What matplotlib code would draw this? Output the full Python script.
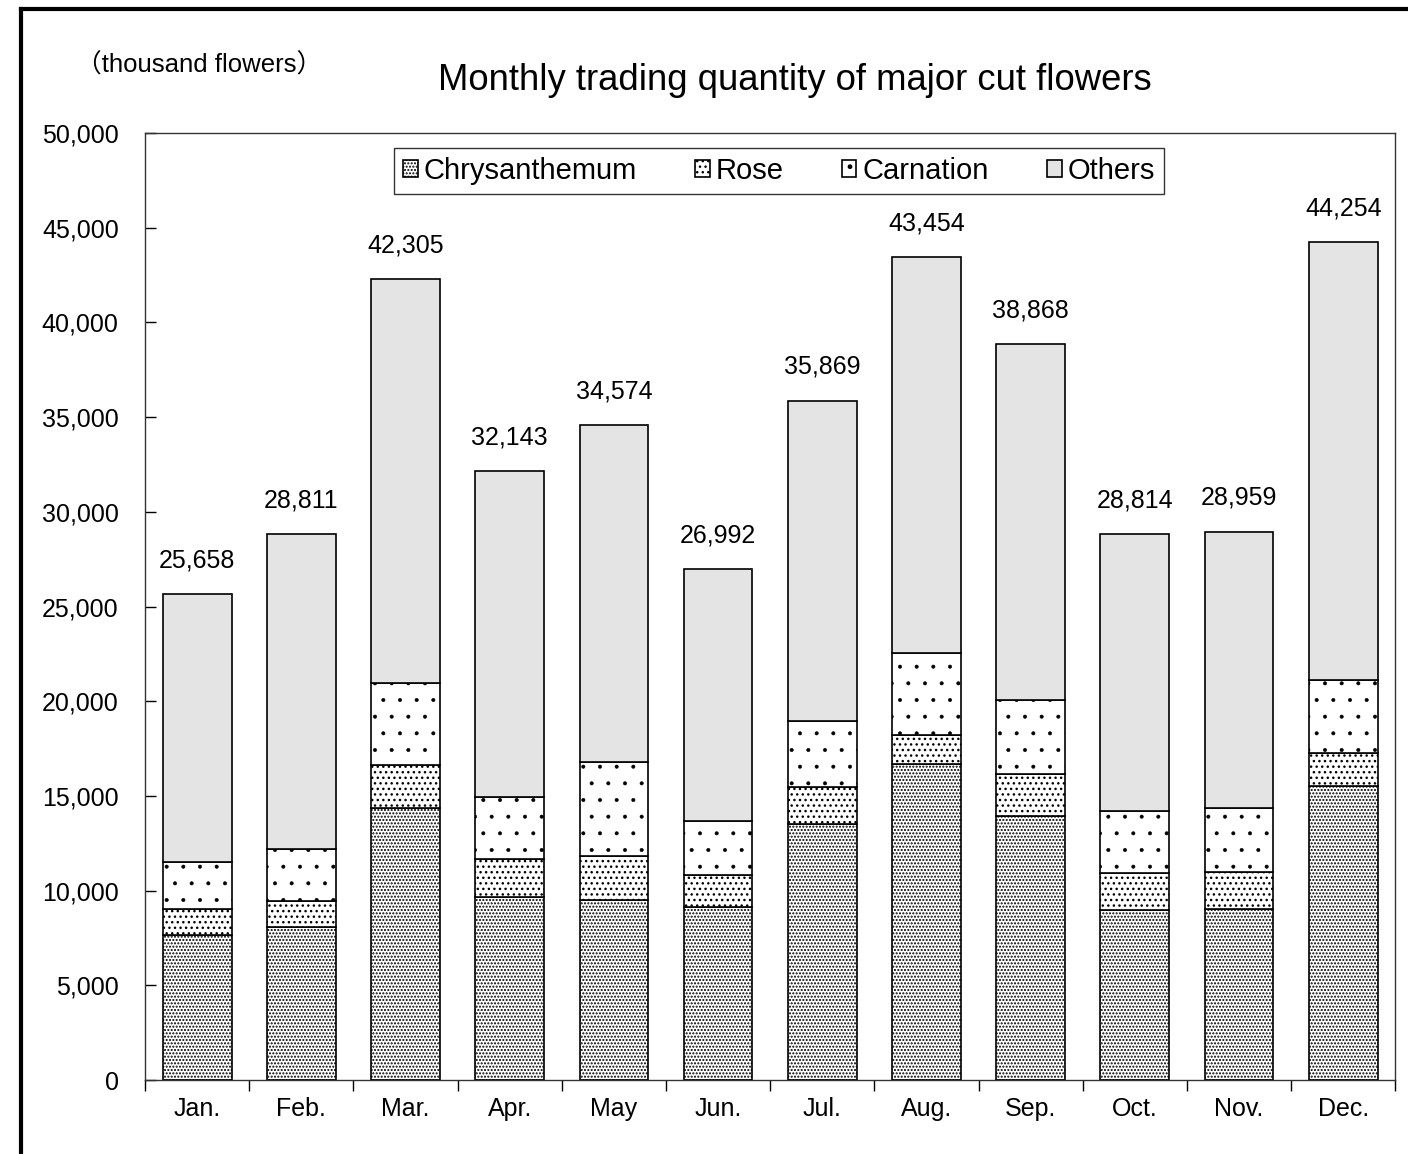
import numpy as np
import matplotlib.pyplot as plt
from matplotlib.lines import Line2D

plt.rcParams['font.family'] = ['Liberation Sans', 'Noto Sans CJK JP', 'DejaVu Sans']

months = ['Jan.', 'Feb.', 'Mar.', 'Apr.', 'May', 'Jun.', 'Jul.', 'Aug.', 'Sep.', 'Oct.', 'Nov.', 'Dec.']
totals = [25658, 28811, 42305, 32143, 34574, 26992, 35869, 43454, 38868, 28814, 28959, 44254]
chrysanthemum = [7640, 8060, 14360, 9660, 9490, 9120, 13500, 16670, 13950, 8960, 9010, 15520]
rose = [1370, 1410, 2250, 2020, 2320, 1690, 1970, 1560, 2200, 1970, 1970, 1740]
carnation = [2480, 2740, 4360, 3290, 4980, 2850, 3490, 4300, 3940, 3270, 3360, 3850]
others = [t - c - r - n for t, c, r, n in zip(totals, chrysanthemum, rose, carnation)]

fig = plt.figure(figsize=(14.08, 11.54), dpi=100)
ax = fig.add_axes([0.103, 0.0641, 0.888, 0.8206])

x = np.arange(len(months))
w = 0.66
bottom = np.zeros(len(months))
series = [
    ('Chrysanthemum', chrysanthemum, 'white', '.....', 1.0),
    ('Rose', rose, 'white', '...', 1.0),
    ('Carnation', carnation, 'white', '.', 0.4),
    ('Others', others, '#e4e4e4', None, 1.0),
]
for name, vals, fc, hatch, hlw in series:
    with plt.rc_context({'hatch.linewidth': hlw}):
        bars = ax.bar(x, vals, w, bottom=bottom, color=fc, edgecolor='black', linewidth=1.2,
                      hatch=hatch, label=name, zorder=2)
    for b in bars:
        if hasattr(b, 'set_hatch_linewidth'):
            b.set_hatch_linewidth(hlw)
    bottom += np.array(vals)

for xi, t in zip(x, totals):
    ax.text(xi, t + 1150, f'{t:,}', ha='center', va='bottom', fontsize=18)

ax.set_xlim(-0.5, len(months) - 0.5)
ax.set_ylim(0, 50000)
ax.set_yticks(np.arange(0, 50001, 5000))
ax.set_yticklabels([f'{v:,}' for v in range(0, 50001, 5000)], fontsize=18)
ax.set_xticks(x)
ax.set_xticklabels(months, fontsize=18)
ax.tick_params(axis='x', length=0, pad=12)
ax.set_xticks(np.arange(-0.5, len(months), 1), minor=True)
ax.tick_params(axis='x', which='minor', length=8, direction='out', width=1)
ax.tick_params(axis='y', length=8, direction='in', width=1, pad=19)
for s in ax.spines.values():
    s.set_linewidth(1)
    s.set_color('#333333')

leg = ax.legend(loc='upper center', bbox_to_anchor=(0.507, 0.984), ncol=4, fontsize=21,
                frameon=True, fancybox=False, edgecolor='black', handlelength=0.5,
                handleheight=0.5, handletextpad=0.2, columnspacing=2.0, borderpad=0.3,
                borderaxespad=0)
leg.get_frame().set_linewidth(1)

ax.set_title('Monthly trading quantity of major cut flowers', fontsize=26.3, pad=31, x=0.52)
fig.text(0.054, 0.943, '（thousand flowers）', fontsize=18.5, ha='left', va='center')

fig.add_artist(Line2D([21 / 1408, 21 / 1408], [0, 1 - 9 / 1154], color='black', linewidth=3))
fig.add_artist(Line2D([21 / 1408, 1], [1 - 9 / 1154, 1 - 9 / 1154], color='black', linewidth=3))

fig.savefig('out.png', dpi=100)
